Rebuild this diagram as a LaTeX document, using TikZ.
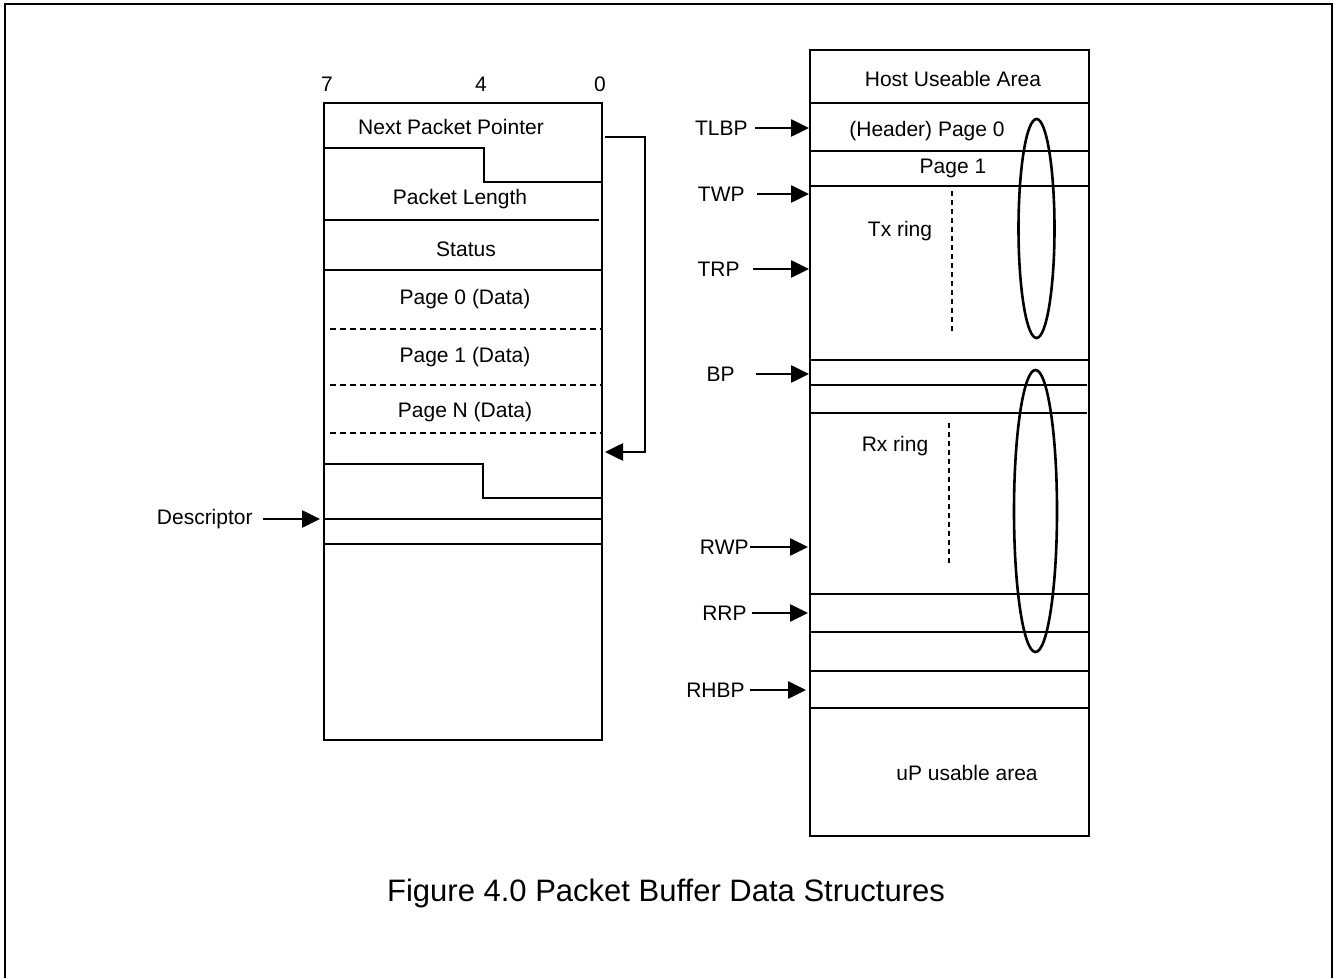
\documentclass[tikz,border=0pt]{standalone}
\usepackage{fontspec}
\setmainfont{Liberation Sans}
\usetikzlibrary{arrows.meta}
\begin{document}
\begin{tikzpicture}[x=0.5pt,y=-0.5pt,
  lw/.style={line width=1.3pt},
  lbl/.style={inner sep=0pt,font=\fontsize{10.5}{12}\selectfont},
  ptr/.style={line width=1.3pt,-{Triangle[length=9pt,width=8.5pt]}},
  dsh/.style={line width=1.1pt,dash pattern=on 3pt off 2pt},
  dot/.style={line width=1.3pt,dash pattern=on 2.5pt off 2pt}]
\useasboundingbox (0,0) rectangle (1333,978);
% outer frame
\draw[lw] (5,990) -- (5,4) -- (1332,4) -- (1332,990);

% ---------- left structure ----------
\draw[lw] (324,103) rectangle (602,740);
\node[lbl] (b7) at (327,84) {7};
\node[lbl] (b4) at (481,84) {4};
\node[lbl] (b0) at (600,84) {0};
\node[lbl] (npp) at (451,127) {Next Packet Pointer};
\draw[lw] (324,148) -- (484,148) -- (484,182) -- (602,182);
\node[lbl] (plen) at (460,199) {Packet Length};
\draw[lw] (324,220) -- (599,220);
\node[lbl] (stat) at (466,249) {Status};
\draw[lw] (324,270) -- (602,270);
\node[lbl] (pg0) at (465,299) {Page 0 (Data)};
\draw[dsh] (330,329) -- (602,329);
\node[lbl] (pg1) at (465,357) {Page 1 (Data)};
\draw[dsh] (330,385) -- (602,385);
\node[lbl] (pgn) at (465,412) {Page N (Data)};
\draw[dsh] (330,433) -- (602,433);
\coordinate (nxA) at (605,137);
\coordinate (nxB) at (645,137);
\coordinate (nxC) at (645,452);
\coordinate (nxT) at (605,452);
\draw[ptr] (nxA) -- (nxB) -- (nxC) -- (nxT);
\draw[lw] (324,464) -- (483,464) -- (483,498) -- (602,498);
\draw[lw] (324,519) -- (602,519);
\draw[lw] (324,544) -- (602,544);
\node[lbl,anchor=east] (desc) at (253,519) {Descriptor};
\coordinate (descT) at (320,519);
\draw[ptr] ([xshift=5pt]desc.east) -- (descT);

% ---------- right structure ----------
\draw[lw] (810,50) rectangle (1089,836);
\node[lbl] (host) at (953,79) {Host Useable Area};
\draw[lw] (810,103) -- (1089,103);
\node[lbl] (hdr) at (927,131) {(Header) Page 0};
\draw[lw] (810,151) -- (1089,151);
\node[lbl] (p1) at (953,168) {Page 1};
\draw[lw] (810,186) -- (1089,186);
\node[lbl] (tx) at (900,231) {Tx ring};
\coordinate (txd1) at (952,191);
\coordinate (txd2) at (952,334);
\draw[dot] (txd1) -- (txd2);
\draw[lw] (1036.5,228.5) ellipse [x radius=9pt, y radius=54.75pt];
\draw[lw] (810,360) -- (1089,360);
\draw[lw] (810,385) -- (1087,385);
\draw[lw] (810,413) -- (1087,413);
\node[lbl] (rx) at (895,446) {Rx ring};
\coordinate (rxd1) at (949,423);
\coordinate (rxd2) at (949,566);
\draw[dot] (rxd1) -- (rxd2);
\draw[lw] (1035.5,511) ellipse [x radius=10.75pt, y radius=70.5pt];
\draw[lw] (810,594) -- (1089,594);
\draw[lw] (810,632) -- (1089,632);
\draw[lw] (810,671) -- (1089,671);
\draw[lw] (810,708) -- (1089,708);
\node[lbl] (up) at (967,773) {uP usable area};

% pointers
\node[lbl,anchor=east] (tlbp) at (748,128) {TLBP};
\node[lbl,anchor=east] (twp) at (745,194) {TWP};
\node[lbl,anchor=east] (trp) at (740,269) {TRP};
\node[lbl,anchor=east] (bp) at (735,374) {BP};
\node[lbl,anchor=east] (rwp) at (749,547) {RWP};
\node[lbl,anchor=east] (rrp) at (747,613) {RRP};
\node[lbl,anchor=east] (rhbp) at (745,690) {RHBP};
\coordinate (tlbpT) at (809,128);
\coordinate (twpT) at (809,194);
\coordinate (trpT) at (809,269);
\coordinate (bpT) at (809,374);
\coordinate (rwpT) at (808,547);
\coordinate (rrpT) at (808,613);
\coordinate (rhbpT) at (806,690);
\draw[ptr] ([xshift=3.5pt]tlbp.east) -- (tlbpT);
\draw[ptr] ([xshift=6pt]twp.east) -- (twpT);
\draw[ptr] ([xshift=6.5pt]trp.east) -- (trpT);
\draw[ptr] ([xshift=10.5pt]bp.east) -- (bpT);
\draw[ptr] ([xshift=0.5pt]rwp.east) -- (rwpT);
\draw[ptr] ([xshift=2.5pt]rrp.east) -- (rrpT);
\draw[ptr] ([xshift=2.5pt]rhbp.east) -- (rhbpT);

% caption
\node[inner sep=0pt,font=\fontsize{15.5}{18}\selectfont] (cap) at (666,893) {Figure 4.0 Packet Buffer Data Structures};
\end{tikzpicture}
\end{document}
